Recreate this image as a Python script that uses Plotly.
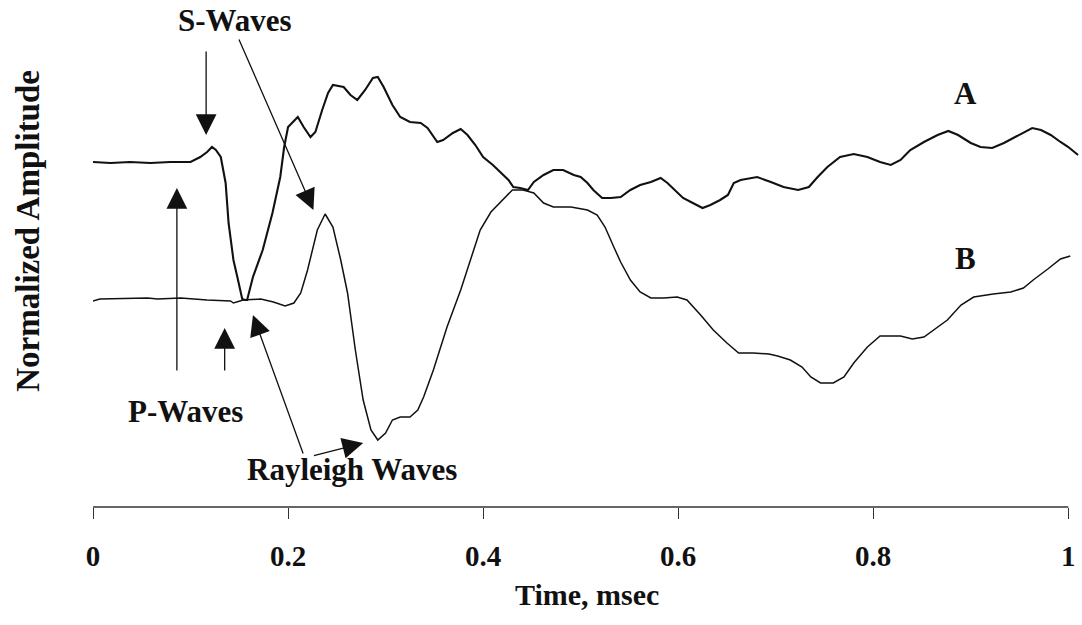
import plotly.graph_objects as go

# ---- data (time in msec, normalized amplitude in arbitrary units) ----
time_a = [0.000, 0.018, 0.038, 0.059, 0.079, 0.100, 0.110, 0.117, 0.122, 0.126,
          0.131, 0.136, 0.139, 0.144, 0.148, 0.153, 0.156, 0.158, 0.164, 0.174,
          0.184, 0.192, 0.196, 0.200, 0.210, 0.216, 0.223, 0.228, 0.235, 0.241,
          0.246, 0.257, 0.264, 0.271, 0.279, 0.287, 0.292, 0.298, 0.307, 0.315,
          0.325, 0.336, 0.343, 0.353, 0.359, 0.369, 0.377, 0.384, 0.392, 0.400,
          0.410, 0.418, 0.426, 0.431, 0.438, 0.446, 0.452, 0.462, 0.472, 0.482,
          0.493, 0.500, 0.507, 0.513, 0.522, 0.531, 0.541, 0.551, 0.561, 0.572,
          0.582, 0.589, 0.597, 0.605, 0.615, 0.625, 0.633, 0.643, 0.651, 0.657,
          0.664, 0.681, 0.695, 0.708, 0.723, 0.734, 0.743, 0.753, 0.766, 0.780,
          0.794, 0.807, 0.818, 0.828, 0.838, 0.852, 0.866, 0.877, 0.887, 0.900,
          0.910, 0.922, 0.934, 0.948, 0.963, 0.972, 0.982, 0.992, 1.000, 1.010]
amp_a = [69.0, 68.8, 69.0, 68.8, 69.0, 69.0, 70.0, 71.0, 72.0, 71.4,
         70.0, 64.8, 56.8, 49.4, 46.0, 41.6, 41.4, 41.4, 46.0, 51.4,
         58.8, 66.0, 72.0, 76.0, 78.0, 76.0, 74.0, 75.0, 79.4, 82.8,
         84.4, 84.0, 82.4, 81.4, 83.4, 85.8, 86.0, 84.0, 80.4, 78.0,
         77.0, 76.8, 75.8, 73.0, 73.4, 74.8, 75.6, 74.4, 72.4, 70.0,
         68.4, 67.0, 65.4, 64.0, 63.8, 63.4, 65.0, 66.4, 67.4, 67.4,
         66.4, 66.0, 64.8, 63.4, 61.8, 61.8, 62.0, 63.4, 64.4, 65.0,
         65.8, 64.8, 63.4, 61.8, 60.8, 59.8, 60.4, 61.4, 62.4, 64.8,
         65.4, 66.0, 65.0, 64.0, 63.4, 64.0, 66.0, 68.0, 70.0, 70.6,
         70.0, 69.0, 68.4, 69.4, 71.4, 73.0, 74.4, 75.2, 74.4, 72.8,
         72.0, 71.8, 72.8, 74.2, 75.8, 75.4, 74.4, 73.0, 72.0, 70.4]

time_b = [0.000, 0.007, 0.056, 0.066, 0.090, 0.117, 0.141, 0.144, 0.154, 0.172,
          0.185, 0.197, 0.206, 0.213, 0.220, 0.225, 0.230, 0.238, 0.246, 0.254,
          0.261, 0.269, 0.277, 0.285, 0.292, 0.300, 0.307, 0.315, 0.325, 0.333,
          0.339, 0.349, 0.363, 0.377, 0.387, 0.397, 0.408, 0.418, 0.430, 0.441,
          0.452, 0.462, 0.472, 0.490, 0.507, 0.517, 0.525, 0.534, 0.541, 0.551,
          0.561, 0.572, 0.585, 0.599, 0.609, 0.623, 0.636, 0.650, 0.662, 0.677,
          0.693, 0.702, 0.715, 0.727, 0.736, 0.746, 0.759, 0.770, 0.780, 0.794,
          0.807, 0.828, 0.840, 0.852, 0.862, 0.876, 0.890, 0.903, 0.923, 0.941,
          0.954, 0.964, 0.979, 0.992, 1.002]
amp_b = [41.2, 41.6, 41.8, 41.6, 41.8, 41.4, 41.2, 40.8, 41.4, 41.6,
         41.0, 40.2, 40.8, 42.8, 47.4, 51.4, 55.4, 58.6, 56.0, 49.4,
         42.8, 31.4, 21.4, 15.4, 13.4, 14.8, 17.4, 18.0, 18.0, 19.4,
         22.0, 27.4, 36.0, 43.4, 49.4, 55.4, 59.0, 61.0, 63.4, 63.4,
         62.8, 60.8, 60.0, 60.0, 59.4, 58.4, 56.0, 52.0, 49.0, 45.4,
         43.0, 41.8, 41.8, 42.0, 41.4, 38.4, 35.4, 32.8, 30.8, 30.8,
         30.6, 30.2, 29.4, 28.0, 26.0, 24.8, 24.8, 26.0, 28.8, 32.0,
         34.2, 34.2, 33.6, 34.0, 35.4, 37.4, 40.4, 42.0, 42.6, 43.0,
         43.8, 45.4, 47.6, 49.6, 50.2]

tick_vals = [0, 0.2, 0.4, 0.6, 0.8, 1.0]
tick_text = ["0", "0.2", "0.4", "0.6", "0.8", "1"]

# labels: (text, time, amplitude)
curve_labels = [("A", 0.895, 82.8), ("B", 0.895, 49.8)]
wave_labels = [("S-Waves", 0.146, 97.4), ("P-Waves", 0.095, 19.2),
               ("Rayleigh Waves", 0.266, 7.6)]
# arrows: (tail time, tail amp, head time, head amp)
arrows = [
    (0.116, 91.4, 0.116, 74.4),
    (0.149, 93.8, 0.226, 59.4),
    (0.086, 27.0, 0.086, 63.8),
    (0.135, 27.0, 0.135, 35.8),
    (0.216, 10.4, 0.164, 38.4),
    (0.225, 10.2, 0.277, 12.8),
]

SERIF = "Liberation Serif, Times New Roman, serif"

fig = go.Figure()
fig.add_trace(go.Scatter(x=time_a, y=amp_a, mode="lines",
                         line=dict(color="#111111", width=2.1), showlegend=False))
fig.add_trace(go.Scatter(x=time_b, y=amp_b, mode="lines",
                         line=dict(color="#111111", width=1.5), showlegend=False))

annotations = []
for txt, x, y in curve_labels + wave_labels:
    annotations.append(dict(x=x, y=y, xref="x", yref="y", text=txt, showarrow=False,
                            xanchor="center", yanchor="middle",
                            font=dict(family=SERIF, size=31, color="#111111", weight="bold")))
for tx, ty, hx, hy in arrows:
    annotations.append(dict(x=hx, y=hy, ax=tx, ay=ty, xref="x", yref="y",
                            axref="x", ayref="y", text="", showarrow=True,
                            arrowhead=2, arrowsize=3.2, arrowwidth=1.3,
                            arrowcolor="#111111", standoff=0))
# axis titles
annotations.append(dict(x=0.5, y=-0.175, xref="paper", yref="paper",
                        text="Time, msec", showarrow=False, xanchor="center", yanchor="middle",
                        font=dict(family=SERIF, size=30, color="#111111", weight="bold")))
annotations.append(dict(x=-0.066, y=0.55, xref="paper", yref="paper",
                        text="Normalized Amplitude", showarrow=False, textangle=-90,
                        xanchor="center", yanchor="middle",
                        font=dict(family=SERIF, size=33, color="#111111", weight="bold")))

fig.update_layout(
    width=1082, height=625,
    margin=dict(l=93, r=2, t=5, b=118),
    paper_bgcolor="white", plot_bgcolor="white",
    annotations=annotations,
    shapes=[dict(type="line", xref="x", yref="paper", x0=0, x1=1.0, y0=0, y1=0,
                 line=dict(color="#333333", width=1.6))],
    xaxis=dict(range=[0, 1.012], showgrid=False, zeroline=False, showline=False,
               ticks="outside", ticklen=11, tickwidth=1.3, tickcolor="#333333",
               tickvals=tick_vals, ticktext=tick_text, ticklabelstandoff=12,
               tickfont=dict(family=SERIF, size=29, color="#111111", weight="bold")),
    yaxis=dict(range=[0, 100.4], visible=False),
)

fig.write_html("out.html")
